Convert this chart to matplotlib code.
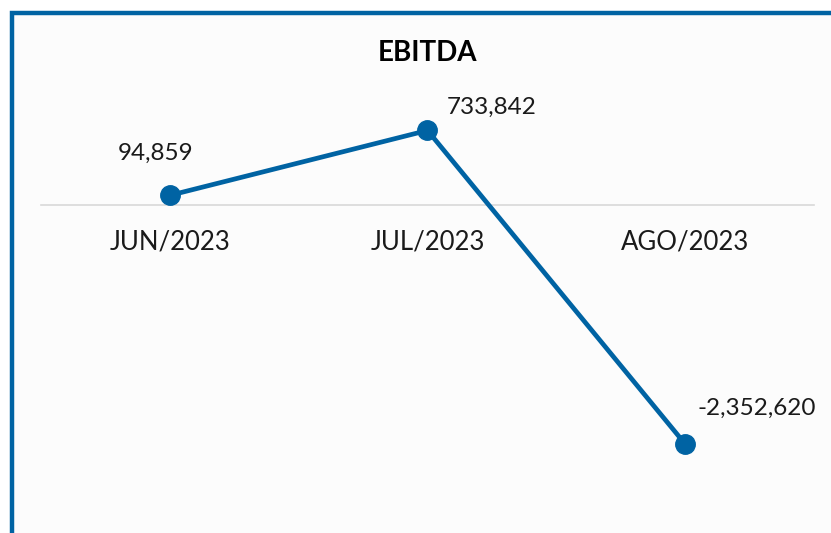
import matplotlib.pyplot as plt
from matplotlib.patches import Rectangle

# data
months = ["JUN/2023", "JUL/2023", "AGO/2023"]
ebitda = [94859, 733842, -2352620]
label_offsets = [(-14, 42), (64, 23), (72, 36)]  # pixels, relative to point

blue = "#0063a3"
plt.rcParams['font.family'] = ['Lato', 'DejaVu Sans']

fig = plt.figure(figsize=(8.31, 5.33), dpi=100, facecolor="white")

# frame: only left and top edges visible
frame = Rectangle((12 / 831, -0.2), 1.3, 1.2 - 12.5 / 533,
                  transform=fig.transFigure, facecolor="#fcfcfc",
                  edgecolor=blue, linewidth=3.2, zorder=-10)
fig.patches.append(frame)

ax = fig.add_axes([41 / 831, 1 - 520 / 533, 773 / 831, 460 / 533])
ax.set_facecolor("none")
ax.set_zorder(5)

x = list(range(len(months)))
ax.plot(x, ebitda, color=blue, lw=3.4, marker="o", ms=14,
        solid_capstyle="round", zorder=3)

for i, v in enumerate(ebitda):
    dx, dy = label_offsets[i]
    ax.annotate(f"{v:,}", (i, v), xytext=(dx, dy), textcoords="offset pixels",
                ha="center", va="center", fontsize=17.5, color="#1a1a1a")

ax.set_xlim(-0.5, 2.5)
ax.set_ylim(-3100394, 1427165)

for s in ["top", "right", "left"]:
    ax.spines[s].set_visible(False)
ax.spines["bottom"].set_position(("data", 0))
ax.spines["bottom"].set_color("#d9d9d9")
ax.spines["bottom"].set_linewidth(1.2)
ax.set_yticks([])
ax.set_xticks(x)
ax.set_xticklabels(months, fontsize=18.5, color="#1a1a1a")
ax.tick_params(axis="x", length=0, pad=18)

fig.text(428 / 831, 1 - 53 / 533, "EBITDA", ha="center", va="center",
         fontsize=20, fontweight="bold", color="black")

fig.savefig("out.png", dpi=100, facecolor=fig.get_facecolor())
